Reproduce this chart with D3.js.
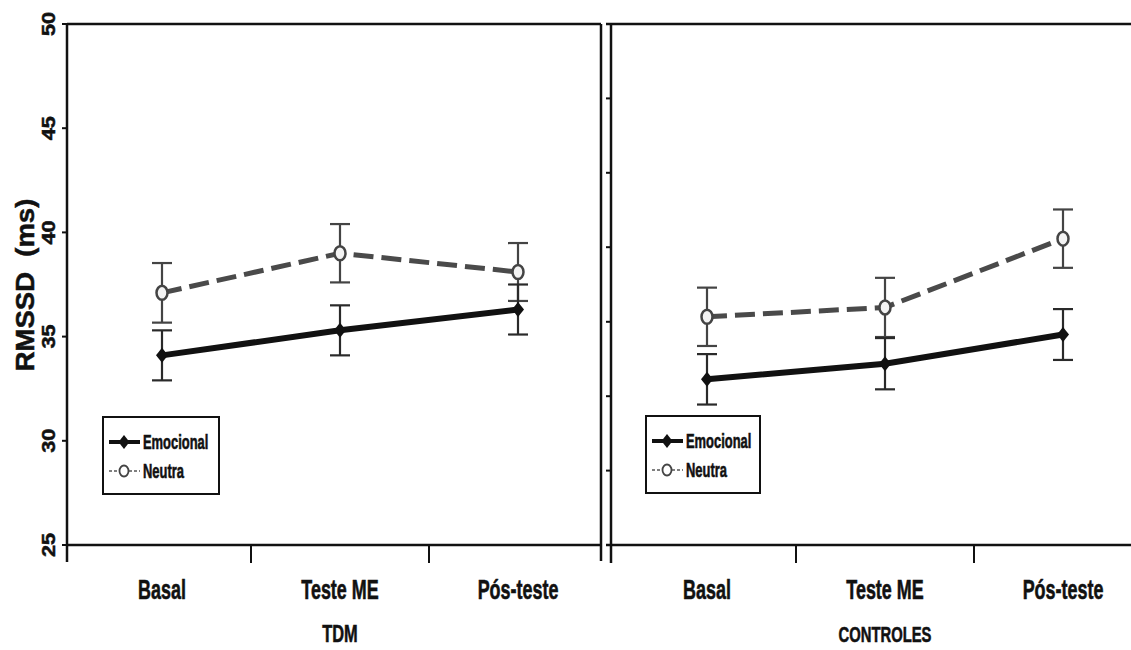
<!DOCTYPE html>
<html>
<head>
<meta charset="utf-8">
<script src="https://cdn.jsdelivr.net/npm/d3@7"></script>
<style>
  html, body { margin: 0; padding: 0; background: #fff; }
  svg { display: block; }
  text { font-family: "Liberation Sans", Arial, sans-serif; font-weight: bold; fill: #111; stroke: #111; stroke-width: 0.5; }
</style>
</head>
<body>
<svg id="chart" width="1131" height="650"></svg>
<script>
// Conditions on the x axis and the two groups
const categories = ["Basal", "Teste ME", "Pós-teste"];
const groups = ["TDM", "CONTROLES"];

// Mean RMSSD (ms) and standard error per condition
const tdmEmocional = [34.1, 35.3, 36.3];
const tdmEmocionalErr = [1.2, 1.2, 1.2];
const tdmNeutra = [37.1, 39.0, 38.1];
const tdmNeutraErr = [1.43, 1.4, 1.39];

const ctlEmocional = [32.95, 33.7, 35.1];
const ctlEmocionalErr = [1.21, 1.23, 1.22];
const ctlNeutra = [35.95, 36.4, 39.7];
const ctlNeutraErr = [1.4, 1.42, 1.4];

// Axis ticks
const yTicks = [25, 30, 35, 40, 45, 50];
const rightTicks = [25, 28.57, 32.14, 35.71, 39.29, 42.86, 46.43, 50];
const seriesNames = ["Emocional", "Neutra"];

const svg = d3.select("#chart");
const y = d3.scaleLinear().domain([25, 50]).range([545, 24]);

const AXIS = "#111";

// Stretched label helper (narrow, slightly tall lettering)
function label(g, x, yy, txt, size, sx, sy, rot) {
  return g.append("text")
    .attr("transform", `translate(${x},${yy}) rotate(${rot || 0}) scale(${sx},${sy})`)
    .attr("text-anchor", "middle")
    .attr("dominant-baseline", "central")
    .style("font-size", size + "px")
    .style("white-space", "pre")
    .text(txt);
}

// ---- Left y axis (labelled) ----
const gy = svg.append("g");
gy.append("line").attr("x1", 67).attr("x2", 67).attr("y1", y(50)).attr("y2", 562)
  .attr("stroke", AXIS).attr("stroke-width", 2.5);
yTicks.forEach(v => {
  gy.append("line").attr("x1", 62).attr("x2", 67).attr("y1", y(v)).attr("y2", y(v))
    .attr("stroke", AXIS).attr("stroke-width", 2);
  label(gy, 49, y(v), String(v), 18, 1.2, 1, -90);
});
label(gy, 25, 285, "RMSSD  (ms)", 25, 1.1, 1, -90);

// ---- Panels ----
const panels = [
  { name: groups[0], x0: 73, left: 67, right: 601, closed: true,
    emo: tdmEmocional, emoErr: tdmEmocionalErr, neu: tdmNeutra, neuErr: tdmNeutraErr,
    legend: { x: 103, y: 417, w: 116, h: 77 }, titleSize: 20.5, titleX: 340 },
  { name: groups[1], x0: 618, left: 611, right: 1131, closed: false,
    emo: ctlEmocional, emoErr: ctlEmocionalErr, neu: ctlNeutra, neuErr: ctlNeutraErr,
    legend: { x: 646, y: 416, w: 114, h: 77 }, titleSize: 18.5, titleX: 885 }
];

panels.forEach((p, pi) => {
  const g = svg.append("g");
  const x = d3.scaleBand().domain(categories).range([p.x0, p.x0 + 534]);
  const cx = c => x(c) + x.bandwidth() / 2;

  // frame
  g.append("line").attr("x1", p.left - (pi ? 5 : 0)).attr("x2", p.right).attr("y1", y(50)).attr("y2", y(50))
    .attr("stroke", AXIS).attr("stroke-width", 2.5);
  g.append("line").attr("x1", p.left - (pi ? 5 : 0)).attr("x2", p.right).attr("y1", y(25)).attr("y2", y(25))
    .attr("stroke", AXIS).attr("stroke-width", 2.5);
  if (p.closed) {
    g.append("line").attr("x1", p.right).attr("x2", p.right).attr("y1", y(50)).attr("y2", 561)
      .attr("stroke", AXIS).attr("stroke-width", 2.5);
  } else {
    g.append("line").attr("x1", p.left).attr("x2", p.left).attr("y1", y(50)).attr("y2", 563)
      .attr("stroke", AXIS).attr("stroke-width", 2.5);
    rightTicks.forEach(v => {
      g.append("line").attr("x1", p.left - 5).attr("x2", p.left).attr("y1", y(v)).attr("y2", y(v))
        .attr("stroke", AXIS).attr("stroke-width", 2);
    });
  }

  // x ticks at the inner band boundaries
  categories.slice(1).forEach(c => {
    g.append("line").attr("x1", x(c)).attr("x2", x(c)).attr("y1", y(25)).attr("y2", 563)
      .attr("stroke", AXIS).attr("stroke-width", 2);
  });

  // category labels and group title
  categories.forEach(c => label(g, cx(c), 590, c, 23, 0.78, 1.2));
  label(g, p.titleX, 634, p.name, p.titleSize, 0.8, 1.15);

  const emoPts = categories.map((c, i) => ({ x: cx(c), v: p.emo[i], e: p.emoErr[i] }));
  const neuPts = categories.map((c, i) => ({ x: cx(c), v: p.neu[i], e: p.neuErr[i] }));

  // error bars
  function errBars(pts, color) {
    pts.forEach(d => {
      g.append("line").attr("x1", d.x).attr("x2", d.x).attr("y1", y(d.v + d.e)).attr("y2", y(d.v - d.e))
        .attr("stroke", color).attr("stroke-width", 2.2);
      [d.v + d.e, d.v - d.e].forEach(w => {
        g.append("line").attr("x1", d.x - 10).attr("x2", d.x + 10).attr("y1", y(w)).attr("y2", y(w))
          .attr("stroke", color).attr("stroke-width", 2.2);
      });
    });
  }
  errBars(neuPts, "#444");
  errBars(emoPts, "#2a2a2a");

  const line = d3.line().x(d => d.x).y(d => y(d.v));
  g.append("path").datum(neuPts).attr("d", line).attr("fill", "none")
    .attr("stroke", "#4a4a4a").attr("stroke-width", 5).attr("stroke-dasharray", "20,8");
  g.append("path").datum(emoPts).attr("d", line).attr("fill", "none")
    .attr("stroke", "#111").attr("stroke-width", 6);

  // markers
  const diamond = "M0,-7.5L6,0L0,7.5L-6,0Z";
  emoPts.forEach(d => g.append("path").attr("d", diamond)
    .attr("transform", `translate(${d.x},${y(d.v)})`).attr("fill", "#111"));
  neuPts.forEach(d => g.append("ellipse").attr("cx", d.x).attr("cy", y(d.v)).attr("rx", 5.5).attr("ry", 7)
    .attr("fill", "#f3f3f3").attr("stroke", "#444").attr("stroke-width", 2.5));

  // legend
  const L = p.legend;
  const lg = g.append("g").attr("transform", `translate(${L.x},${L.y})`);
  lg.append("rect").attr("width", L.w).attr("height", L.h).attr("fill", "#fff")
    .attr("stroke", "#111").attr("stroke-width", 2);
  const r1 = 25, r2 = 54;
  lg.append("line").attr("x1", 6).attr("x2", 37).attr("y1", r1).attr("y2", r1)
    .attr("stroke", "#111").attr("stroke-width", 4);
  lg.append("path").attr("d", "M0,-7L5.5,0L0,7L-5.5,0Z").attr("transform", `translate(21,${r1})`).attr("fill", "#111");
  lg.append("line").attr("x1", 6).attr("x2", 37).attr("y1", r2).attr("y2", r2)
    .attr("stroke", "#555").attr("stroke-width", 1.6).attr("stroke-dasharray", "3,2");
  lg.append("ellipse").attr("cx", 21).attr("cy", r2).attr("rx", 4.5).attr("ry", 5.5)
    .attr("fill", "#fff").attr("stroke", "#444").attr("stroke-width", 1.8);
  [[seriesNames[0], r1], [seriesNames[1], r2]].forEach(([t, ry]) => {
    lg.append("text").attr("transform", `translate(40,${ry}) scale(0.76,1.2)`)
      .attr("dominant-baseline", "central").style("font-size", "17px").text(t);
  });
});
</script>
</body>
</html>
